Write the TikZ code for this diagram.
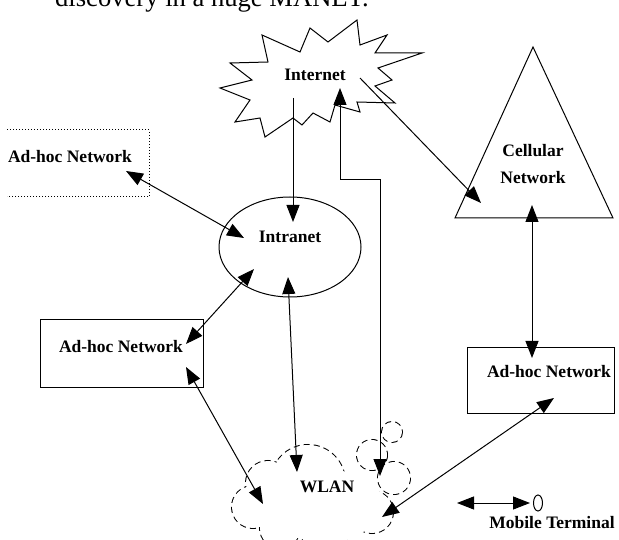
\documentclass[tikz,border=0pt]{standalone}
\usepackage{fontspec}
\setmainfont{Liberation Serif}
\usetikzlibrary{arrows.meta,shapes.geometric}
\tikzset{
  lbl/.style={font=\bfseries\fontsize{17.5}{27}\selectfont, inner sep=0pt, align=center},
  conn/.style={line width=1pt},
  onehead/.style={conn, -{Triangle[length=17pt,width=13pt]}},
  twohead/.style={conn, {Triangle[length=17pt,width=13pt]}-{Triangle[length=17pt,width=13pt]}},
  shapeline/.style={line width=1pt},
  puffline/.style={line width=2pt, dash pattern=on 6pt off 4pt},
}
\begin{document}
\begin{tikzpicture}[x=1pt,y=-1pt]
\fill[white] (0,0) rectangle (619,540);
\useasboundingbox (0,0) rectangle (619,540);

% clipped running text at top
\node[anchor=base west, inner sep=0pt, font=\fontsize{26.6}{30}\selectfont] (toptext) at (55,7) {discovery in a huge MANET.};

% Intranet
\node[shapeline, draw, ellipse, minimum width=142pt, minimum height=100pt, inner sep=0pt] (intranet) at (290,247) {};
\node[lbl] (intranetlbl) at (290,237) {Intranet};

% Cellular triangle
\draw[shapeline] (533,47) -- (613,218) -- (455,218) -- cycle;
\node[lbl] (cellular) at (533,164) {Cellular\\Network};

% dotted Ad-hoc network (top left)
\draw[line width=1pt, dotted] (7,130) -- (149,130) -- (149,197) -- (7,197);
\node[lbl] (adhocT) at (70,157) {Ad-hoc Network};

% left Ad-hoc box
\node[shapeline, draw, minimum width=163pt, minimum height=67pt, inner sep=0pt] (adhocLbox) at (121.5,353.5) {};
\node[lbl] (adhocL) at (121,347) {Ad-hoc Network};

% right Ad-hoc box
\node[shapeline, draw, minimum width=147pt, minimum height=66pt, inner sep=0pt] (adhocRbox) at (540.5,380) {};
\node[lbl] (adhocR) at (549,372) {Ad-hoc Network};

% WLAN cloud: dashed outline of a union of puffs
\def\puffs{(308,482) circle (37) (268,483) circle (22) (253,507) circle (21) (280,528) circle (20)
  (325,530) circle (24) (372,512) circle (21) (394,478) circle (16) (372,455) circle (15)
  (392,432) circle (10)}
\draw[puffline] \puffs;
\fill[white] \puffs;
\fill[white] (322,505) ellipse (62 and 36);
\node[lbl] (wlan) at (327,487) {WLAN};

% Internet burst
\draw[shapeline, fill=white] (220,88) -- (252,80) -- (230,63) -- (268,62) -- (262,35) -- (300,52) -- (310,28)
  -- (328,42) -- (357,20) -- (360,45) -- (387,35) -- (375,53) -- (422,53) -- (378,68) -- (392,80)
  -- (375,86) -- (395,103) -- (357,102) -- (360,112) -- (335,105) -- (330,122) -- (313,113)
  -- (302,125) -- (293,118) -- (265,137) -- (260,118) -- (235,122) -- (250,100) -- cycle;
\node[lbl] (internet) at (315,75) {Internet};

% connector end points
\coordinate (pInetA) at (293,98);
\coordinate (pIntraTop) at (293,222);
\coordinate (pInetB) at (340,88);
\coordinate (pBend1) at (340,180);
\coordinate (pBend2) at (380,180);
\coordinate (pWlanB) at (380,476);
\coordinate (pInetC) at (360,78);
\coordinate (pCell) at (481,203);
\coordinate (pAdT) at (126,171);
\coordinate (pIntraL) at (244,238);
\coordinate (pIntraBL) at (254,269);
\coordinate (pAdLa) at (186,344);
\coordinate (pIntraB) at (288,277);
\coordinate (pWlanA) at (297,472);
\coordinate (pAdLb) at (186,367);
\coordinate (pWlanL) at (263,504);
\coordinate (pCellB) at (532,205);
\coordinate (pAdRT) at (532,358);
\coordinate (pAdRB) at (554,398);
\coordinate (pWlanR) at (382,517);
\coordinate (pMobA) at (457,503);
\coordinate (pMobB) at (530,503);

% connectors
\draw[onehead] (pInetA) -- (pIntraTop);
\draw[twohead] (pInetB) -- (pBend1) -- (pBend2) -- (pWlanB);
\draw[onehead] (pInetC) -- (pCell);
\draw[twohead] (pAdT) -- (pIntraL);
\draw[twohead] (pIntraBL) -- (pAdLa);
\draw[twohead] (pIntraB) -- (pWlanA);
\draw[twohead] (pAdLb) -- (pWlanL);
\draw[twohead] (pCellB) -- (pAdRT);
\draw[twohead] (pAdRB) -- (pWlanR);
\draw[twohead] (pMobA) -- (pMobB);

% mobile terminal
\node[draw, ellipse, line width=1pt, minimum width=9pt, minimum height=16pt, inner sep=0pt] (terminal) at (538,503) {};
\node[lbl] (mobile) at (552,523) {Mobile Terminal};
\end{tikzpicture}
\end{document}
